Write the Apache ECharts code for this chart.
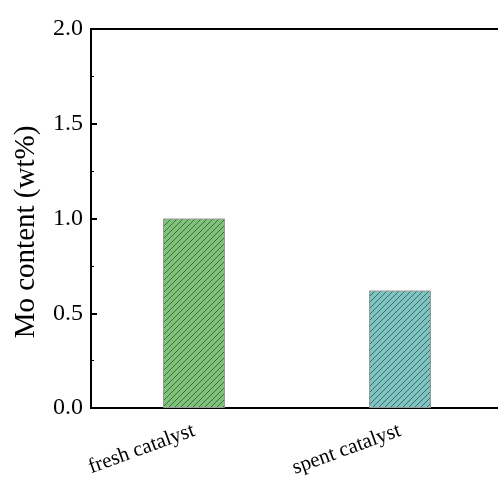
<!DOCTYPE html>
<html>
<head>
<meta charset="utf-8">
<script src="https://cdn.jsdelivr.net/npm/echarts@6/dist/echarts.min.js"></script>
<style>html,body{margin:0;padding:0;background:#fff;}#c{width:498px;height:479px;}</style>
</head>
<body>
<div id="c"></div>
<script>
const categories = ['fresh catalyst', 'spent catalyst'];
const moContent = [1.0, 0.62];
const yTicks = [0, 0.5, 1.0, 1.5, 2.0];
const yTitle = 'Mo content (wt%)';

function hatch(fill, line) {
  const s = 6;
  const cv = document.createElement('canvas');
  cv.width = s; cv.height = s;
  const g = cv.getContext('2d');
  g.fillStyle = fill; g.fillRect(0, 0, s, s);
  g.strokeStyle = line; g.lineWidth = 1;
  g.beginPath();
  g.moveTo(0, s); g.lineTo(s, 0);
  g.moveTo(-1, 1); g.lineTo(1, -1);
  g.moveTo(s - 1, s + 1); g.lineTo(s + 1, s - 1);
  g.stroke();
  return { image: cv, repeat: 'repeat' };
}

const barColors = [hatch('#7fc27b', '#3f6e3d'), hatch('#7fc4c0', '#3c6e6b')];
const font = '"Liberation Serif", "Times New Roman", serif';

const chart = echarts.init(document.getElementById('c'), null, { renderer: 'canvas' });
chart.setOption({
  animation: false,
  backgroundColor: '#fff',
  grid: { left: 91, top: 29, width: 412, height: 379, show: true, borderColor: '#000', borderWidth: 2, containLabel: false, outerBoundsMode: 'none' },
  graphic: [{
    type: 'text',
    x: 26, y: 232,
    rotation: Math.PI / 2,
    style: { text: yTitle, fontFamily: font, fontSize: 29, fill: '#000', align: 'center', verticalAlign: 'middle' }
  }],
  xAxis: {
    type: 'category',
    data: categories,
    axisLine: { lineStyle: { color: '#000', width: 2 } },
    axisTick: { inside: true, alignWithLabel: true, length: 6, lineStyle: { color: '#000', width: 2 } },
    axisLabel: { rotate: 20, fontFamily: font, fontSize: 21, color: '#000', margin: 22 }
  },
  yAxis: {
    type: 'value',
    min: 0, max: 2, interval: 0.5,
    axisLine: { show: true, lineStyle: { color: '#000', width: 2 } },
    axisTick: { show: true, inside: true, length: 6, lineStyle: { color: '#000', width: 2 } },
    minorTick: { show: true, splitNumber: 2, length: 3, lineStyle: { color: '#000', width: 1 } },
    splitLine: { show: false },
    axisLabel: { fontFamily: font, fontSize: 24, color: '#000', margin: 8, formatter: v => v.toFixed(1) }
  },
  series: [{
    type: 'bar',
    barWidth: 62,
    data: moContent.map((v, i) => ({ value: v, itemStyle: { color: barColors[i] } })),
    itemStyle: { borderColor: '#999', borderWidth: 1 }
  }]
});
</script>
</body>
</html>
